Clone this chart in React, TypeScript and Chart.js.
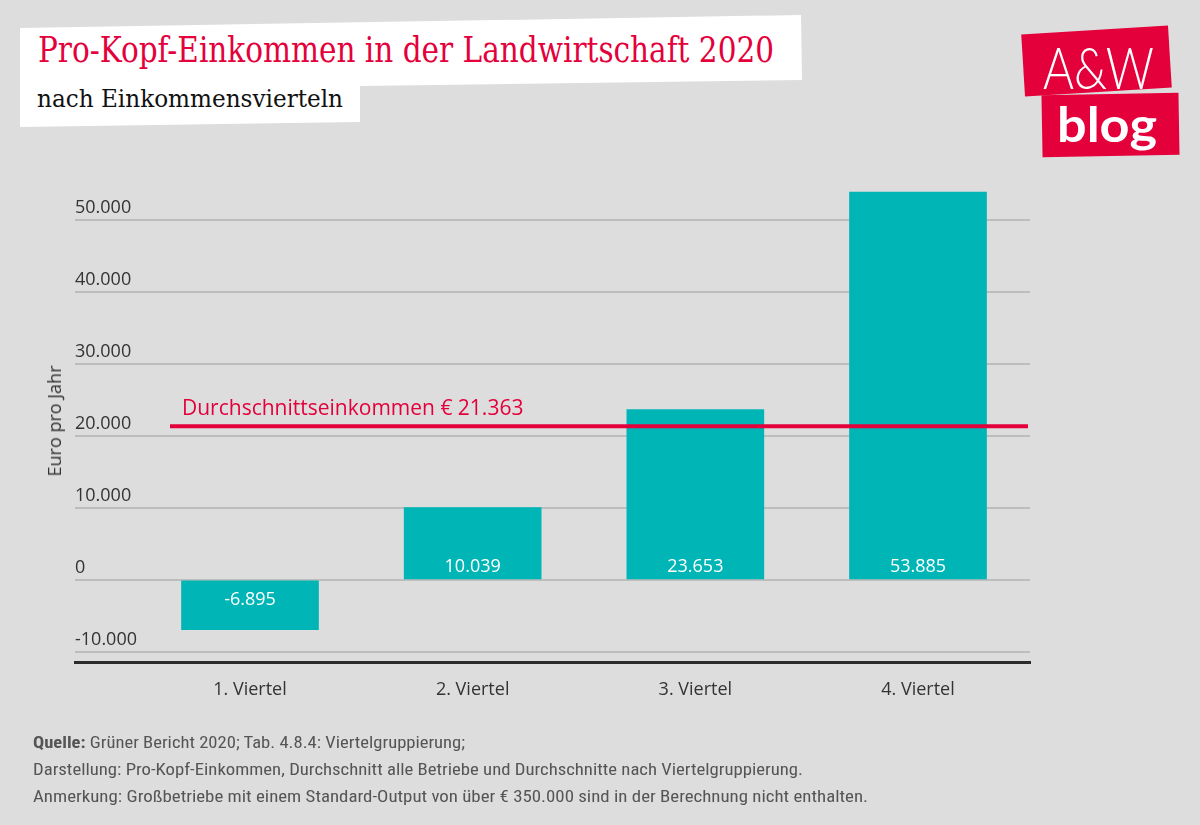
import React, { useEffect, useLayoutEffect, useRef } from 'react';
import { Chart, registerables } from 'chart.js';

Chart.register(...registerables);

const categories = ['1. Viertel', '2. Viertel', '3. Viertel', '4. Viertel'];
const positions = [1, 2, 3, 4];
const values = [-6895, 10039, 23653, 53885];
const average = 21363;
const yTicks = [-10000, 0, 10000, 20000, 30000, 40000, 50000];

const RED = '#e4003b';
const TEAL = '#00b5b6';
const SANS = '"Open Sans", "Noto Sans", sans-serif';

function fmt(n: number): string {
  const s = Math.abs(n).toString().replace(/\B(?=(\d{3})+(?!\d))/g, '.');
  return (n < 0 ? '-' : '') + s;
}

function FitText(props: { text: React.ReactNode; width: number; left: number; top: number; style: React.CSSProperties }) {
  const ref = useRef<HTMLDivElement>(null);
  useLayoutEffect(() => {
    const el = ref.current;
    if (!el) return;
    el.style.transform = 'none';
    const w = el.getBoundingClientRect().width;
    if (w > 0) el.style.transform = `scaleX(${props.width / w})`;
  }, []);
  return (
    <div
      ref={ref}
      style={{
        position: 'absolute',
        left: props.left,
        top: props.top,
        whiteSpace: 'nowrap',
        transformOrigin: 'left top',
        lineHeight: 1,
        ...props.style,
      }}
    >
      {props.text}
    </div>
  );
}

const overlayPlugin = {
  id: 'overlay',
  afterDatasetsDraw(chart: any) {
    const { ctx, chartArea, scales } = chart;
    const y = scales.y;
    const meta = chart.getDatasetMeta(0);
    const zero = y.getPixelForValue(0);
    ctx.save();
    ctx.font = `18px ${SANS}`;
    ctx.fillStyle = '#ffffff';
    ctx.textAlign = 'center';
    ctx.textBaseline = 'middle';
    meta.data.forEach((bar: any, i: number) => {
      const v = values[i];
      ctx.fillText(fmt(v), bar.x, v >= 0 ? zero - 13 : zero + 20);
    });
    const ay = y.getPixelForValue(average);
    ctx.strokeStyle = RED;
    ctx.lineWidth = 4;
    ctx.beginPath();
    ctx.moveTo(chartArea.left + 95, ay);
    ctx.lineTo(chartArea.right - 2, ay);
    ctx.stroke();
    ctx.fillStyle = RED;
    ctx.font = `21px ${SANS}`;
    ctx.textAlign = 'left';
    ctx.fillText('Durchschnittseinkommen € ' + fmt(average), chartArea.left + 107, ay - 17);
    ctx.restore();
  },
};

function BarChart() {
  const canvasRef = useRef<HTMLCanvasElement>(null);
  useEffect(() => {
    if (!canvasRef.current) return;
    const chart = new Chart(canvasRef.current, {
      type: 'bar',
      data: {
        datasets: [
          {
            data: positions.map((p, i) => ({ x: p, y: values[i] })),
            backgroundColor: TEAL,
            borderWidth: 0,
            barThickness: 137,
          },
        ],
      },
      options: {
        animation: false,
        responsive: false,
        maintainAspectRatio: false,
        layout: { padding: { left: 75, right: 170, top: 184, bottom: 825 - 662 - 40 } },
        plugins: { legend: { display: false }, tooltip: { enabled: false } },
        scales: {
          x: {
            type: 'linear',
            offset: false,
            min: 0.214,
            max: 4.503,
            afterBuildTicks: (s: any) => {
              s.ticks = positions.map((v) => ({ value: v }));
            },
            afterFit: (s: any) => {
              s.height = 40;
            },
            grid: { display: false },
            border: { display: true, color: '#2b2b2b', width: 3 },
            ticks: {
              callback: (v: any) => categories[positions.indexOf(Number(v))] ?? '',
              color: '#333333',
              font: { family: SANS, size: 18 },
              padding: 9,
              maxRotation: 0,
              autoSkip: false,
            },
          },
          y: {
            min: -11400,
            max: 55000,
            afterBuildTicks: (s: any) => {
              s.ticks = yTicks.map((v) => ({ value: v }));
            },
            afterFit: (s: any) => {
              s.width = 0;
            },
            grid: { color: '#bdbdbd', lineWidth: 2, drawTicks: false },
            border: { display: false },
            ticks: {
              mirror: true,
              padding: 0,
              labelOffset: -12,
              color: '#333333',
              font: { family: SANS, size: 18 },
              callback: (v: any) => fmt(Number(v)),
            },
          },
        },
      } as any,
      plugins: [overlayPlugin],
    });
    return () => chart.destroy();
  }, []);
  return <canvas ref={canvasRef} width={1200} height={825} style={{ position: 'absolute', left: 0, top: 0, width: 1200, height: 825 }} />;
}

export default function App() {
  const footer: React.CSSProperties = { fontFamily: '"Liberation Sans Narrow", "Roboto Condensed", Roboto, sans-serif', fontSize: 16, color: '#555555' };
  return (
    <div style={{ position: 'absolute', left: 0, top: 0, width: 1200, height: 825, background: '#dddddd', overflow: 'hidden' }}>
      <svg width={1200} height={825} style={{ position: 'absolute', left: 0, top: 0 }}>
        <polygon points="20,28 801,15 802,80 360,86 360,122 20,127" fill="#ffffff" />
      </svg>
      <FitText
        text="Pro-Kopf-Einkommen in der Landwirtschaft 2020"
        width={736}
        left={38}
        top={33}
        style={{ fontFamily: '"DejaVu Serif Condensed", "DejaVu Serif", serif', fontSize: 35, color: RED }}
      />
      <FitText
        text="nach Einkommensvierteln"
        width={306}
        left={37}
        top={86}
        style={{ fontFamily: '"DejaVu Serif Condensed", "DejaVu Serif", serif', fontSize: 25, color: '#111111' }}
      />
      {/* Logo */}
      <div
        style={{
          position: 'absolute',
          left: 1023,
          top: 30,
          width: 147,
          height: 62,
          background: RED,
          transform: 'rotate(-3.5deg)',
        }}
      />
      <div
        style={{
          position: 'absolute',
          left: 1042,
          top: 94,
          width: 137,
          height: 62,
          background: RED,
          transform: 'rotate(-1deg)',
        }}
      />
      <FitText text="A&W" width={111} left={1043} top={38} style={{ fontFamily: 'Lato, sans-serif', fontWeight: 300, fontSize: 58, color: '#ffffff' }} />
      <FitText text="blog" width={100} left={1057} top={100} style={{ fontFamily: 'Lato, sans-serif', fontWeight: 700, fontSize: 48, color: '#ffffff' }} />

      <BarChart />

      <div
        style={{
          position: 'absolute',
          left: 54,
          top: 421,
          transform: 'translate(-50%, -50%) rotate(-90deg)',
          fontFamily: SANS,
          fontSize: 18,
          color: '#333333',
          whiteSpace: 'nowrap',
          lineHeight: 1,
        }}
      >
        Euro pro Jahr
      </div>

      <FitText
        text={
          <>
            <b>Quelle:</b> Grüner Bericht 2020; Tab. 4.8.4: Viertelgruppierung;
          </>
        }
        width={432}
        left={33}
        top={735}
        style={footer}
      />
      <FitText
        text="Darstellung: Pro-Kopf-Einkommen, Durchschnitt alle Betriebe und Durchschnitte nach Viertelgruppierung."
        width={770}
        left={33}
        top={762}
        style={footer}
      />
      <FitText
        text="Anmerkung: Großbetriebe mit einem Standard-Output von über € 350.000 sind in der Berechnung nicht enthalten."
        width={835}
        left={33}
        top={789}
        style={footer}
      />
    </div>
  );
}
